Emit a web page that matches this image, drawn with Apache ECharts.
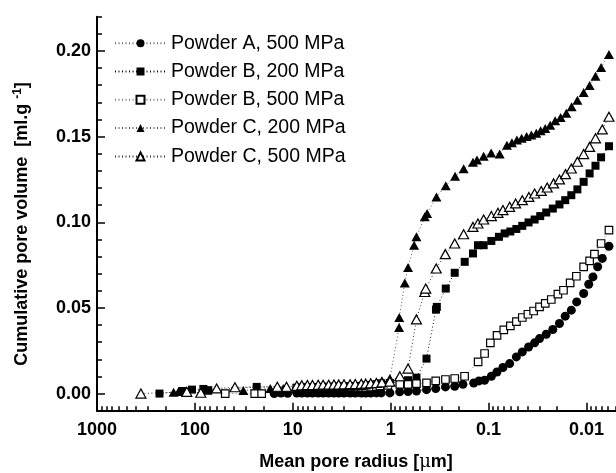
<!DOCTYPE html>
<html>
<head>
<meta charset="utf-8">
<script src="https://cdn.jsdelivr.net/npm/echarts@6/dist/echarts.min.js"></script>
<style>
html,body{margin:0;padding:0;background:#fff;}
#chart{width:616px;height:473px;}
</style>
</head>
<body>
<div id="chart"></div>
<script>
// ---------- data ----------
const seriesNames = ['Powder A, 500 MPa','Powder B, 200 MPa','Powder B, 500 MPa','Powder C, 200 MPa','Powder C, 500 MPa'];
const xTickValues = [1000, 100, 10, 1, 0.1, 0.01];
const yTickValues = [0, 0.05, 0.10, 0.15, 0.20];
const xTitle = 'Mean pore radius [';
const yTitle = 'Cumulative pore volume  [ml.g';

const powderA500 = [
[15.5,0.0000],[13.2,0.0003],[11.3,0.0002],
[9.1,0.0003],[8.1,0.0003],[7.1,0.0003],[6.3,0.0003],[5.5,0.0003],[4.9,0.0003],[4.3,0.0003],[3.8,0.0003],[3.4,0.0003],[3.0,0.0003],[2.6,0.0003],[2.3,0.0003],[2.0,0.0003],[1.8,0.0003],[1.6,0.0003],[1.4,0.0004],[1.25,0.0004],
[1.02,0.0004],[0.81,0.0010],[0.665,0.0012],[0.546,0.0015],[0.431,0.0023],[0.347,0.0029],[0.276,0.0039],[0.222,0.0043],[0.183,0.0054],[0.142,0.0062],[0.1255,0.0074],[0.110,0.0078],[0.0938,0.0101],[0.0822,0.0126],[0.0714,0.0152],[0.061,0.0175],[0.0521,0.0214],[0.0453,0.0243],[0.0391,0.0272],[0.0339,0.0296],[0.0302,0.0321],[0.0258,0.0346],[0.0221,0.0374],[0.0189,0.0409],[0.0165,0.0452],[0.0143,0.0487],[0.0126,0.0535],[0.0107,0.0584],[0.0095,0.0638],[0.0086,0.0681],[0.0077,0.0740],[0.0069,0.0789],[0.0059,0.0860]
];
const powderB200 = [
[230,0.0000],[134,0.0015],[107,0.0023],[82,0.0027],[73,0.0020],[23.4,0.0039],
[9.1,0.0035],[8.1,0.0036],[7.1,0.0037],[6.3,0.0038],[5.5,0.0038],[4.9,0.0039],[4.3,0.0040],[3.8,0.0040],[3.4,0.0041],[3.0,0.0042],[2.6,0.0043],[2.3,0.0044],[2.0,0.0045],[1.8,0.0047],[1.6,0.0050],[1.4,0.0055],[1.25,0.0060],
[1.02,0.0062],[0.81,0.0068],[0.665,0.0078],[0.546,0.0093],[0.431,0.0204],[0.345,0.0490],[0.338,0.0506],[0.274,0.0613],[0.222,0.0705],[0.1755,0.0769],[0.1445,0.0818],[0.1285,0.0866],[0.1124,0.0866],[0.0938,0.0891],[0.0785,0.0915],[0.0686,0.0935],[0.0600,0.0946],[0.0521,0.0961],[0.0453,0.0979],[0.0391,0.0999],[0.0339,0.1016],[0.0297,0.1036],[0.0258,0.1057],[0.0221,0.1080],[0.0189,0.1104],[0.0165,0.1129],[0.0143,0.1158],[0.0124,0.1192],[0.0107,0.1236],[0.0093,0.1285],[0.0081,0.1330],[0.0071,0.1379],[0.0059,0.1444]
];
const powderB500 = [
[49,0.0000],[24.5,0.0000],[20.8,0.0000],
[9.1,0.0030],[8.1,0.0030],[7.1,0.0030],[6.3,0.0032],[5.5,0.0032],[4.9,0.0033],[4.3,0.0033],[3.8,0.0034],[3.4,0.0034],[3.0,0.0035],[2.6,0.0035],[2.3,0.0036],[2.0,0.0036],[1.8,0.0037],[1.6,0.0038],[1.4,0.0040],[1.29,0.0045],
[1.07,0.0048],[0.807,0.0054],[0.665,0.0054],[0.546,0.0058],[0.431,0.0062],[0.347,0.0074],[0.276,0.0082],[0.222,0.0088],[0.176,0.0101],[0.128,0.0185],[0.110,0.0234],[0.096,0.0296],[0.082,0.0340],[0.070,0.0372],[0.060,0.0395],[0.052,0.0420],[0.0453,0.0444],[0.0397,0.0463],[0.0347,0.0482],[0.0302,0.0506],[0.0264,0.0526],[0.0229,0.0549],[0.0196,0.0580],[0.0172,0.0603],[0.0147,0.0646],[0.0127,0.0685],[0.0107,0.0740],[0.0093,0.0775],[0.0083,0.0814],[0.0071,0.0876],[0.0059,0.0954]
];
const powderC200 = [
[165,0.0008],[147,0.0012],[75,0.0020],[32,0.0018],[17,0.0030],[12.5,0.0030],
[9.1,0.0030],[8.1,0.0031],[7.1,0.0032],[6.3,0.0033],[5.5,0.0034],[4.9,0.0035],[4.3,0.0036],[3.8,0.0037],[3.4,0.0038],[3.0,0.0040],[2.6,0.0042],[2.3,0.0044],[2.0,0.0047],[1.8,0.0050],[1.6,0.0058],[1.4,0.0066],[1.23,0.0075],
[1.02,0.0088],[0.821,0.0386],[0.818,0.0444],[0.718,0.0646],[0.665,0.0736],[0.577,0.0866],[0.546,0.0915],[0.449,0.1032],[0.425,0.1051],[0.341,0.1148],[0.274,0.1213],[0.220,0.1269],[0.180,0.1312],[0.1445,0.1351],[0.1315,0.1363],[0.1124,0.1386],[0.0942,0.1405],[0.0771,0.1398],[0.0650,0.1450],[0.0578,0.1464],[0.0514,0.1480],[0.0460,0.1490],[0.0409,0.1500],[0.0366,0.1510],[0.0326,0.1520],[0.0294,0.1534],[0.0264,0.1548],[0.0235,0.1567],[0.0209,0.1592],[0.0184,0.1612],[0.0161,0.1636],[0.0142,0.1674],[0.0124,0.1713],[0.0107,0.1758],[0.0093,0.1799],[0.0081,0.1853],[0.0071,0.1904],[0.0059,0.1980]
];
const powderC500 = [
[356,0.0000],[121,0.0010],[87,0.0005],[60,0.0030],[39,0.0037],[14.4,0.0040],[11.6,0.0040],
[9.1,0.0045],[8.1,0.0048],[7.1,0.0050],[6.3,0.0050],[5.5,0.0051],[4.9,0.0052],[4.3,0.0052],[3.8,0.0053],[3.4,0.0053],[3.0,0.0054],[2.6,0.0055],[2.3,0.0056],[2.0,0.0057],[1.8,0.0058],[1.6,0.0060],[1.4,0.0062],[1.23,0.0065],
[1.02,0.0070],[0.807,0.0101],[0.665,0.0146],[0.546,0.0433],[0.449,0.0593],[0.439,0.0613],[0.343,0.0730],[0.277,0.0814],[0.222,0.0876],[0.180,0.0930],[0.1445,0.0973],[0.1285,0.0993],[0.1124,0.1016],[0.0938,0.1036],[0.0803,0.1055],[0.0714,0.1071],[0.0610,0.1090],[0.0530,0.1110],[0.0453,0.1129],[0.0388,0.1148],[0.0339,0.1168],[0.0290,0.1183],[0.0252,0.1203],[0.0217,0.1227],[0.0189,0.1250],[0.0164,0.1281],[0.0143,0.1314],[0.0124,0.1353],[0.0107,0.1398],[0.0093,0.1440],[0.0081,0.1490],[0.0069,0.1542],[0.0059,0.1616]
];

// ---------- ticks ----------
const xMinorTicks = [];
[0.001,0.01,0.1,1,10,100].forEach(function(dec){
  for (let k = 2; k <= 9; k++) {
    const v = Number((dec * k).toPrecision(3));
    if (v >= 0.005 && v <= 1000) xMinorTicks.push(v);
  }
});
const yMinorTicks = [];
for (let i = -1; i <= 22; i++) { if (i % 5 !== 0) yMinorTicks.push(Number((i / 100).toFixed(2))); }

const FONT = '"Liberation Sans", Arial, Helvetica, sans-serif';

const chart = echarts.init(document.getElementById('chart'), null, {renderer: 'canvas'});

const filled = {color: '#000', borderWidth: 0};
const hollow = {color: '#fff', borderColor: '#000', borderWidth: 1.2};

function mkSeries(name, data, symbol, size, itemStyle, lineColor) {
  return {
    name: name, type: 'line', data: data,
    xAxisIndex: 0, yAxisIndex: 0,
    symbol: symbol, symbolSize: size, showAllSymbol: true,
    itemStyle: itemStyle,
    lineStyle: {color: lineColor, width: 1, type: [1, 2.5]},
    emphasis: {disabled: true},
    animation: false
  };
}

const option = {
  animation: false,
  textStyle: {fontFamily: FONT},
  grid: {left: 97, right: 0, top: 16.7, bottom: 62.3, containLabel: false},
  legend: {
    orient: 'vertical', left: 114, top: 33.2,
    itemWidth: 51, itemHeight: 10, itemGap: 8.3, padding: 0,
    textStyle: {fontSize: 19.5, lineHeight: 19, color: '#000', fontFamily: FONT},
    data: seriesNames,
    selectedMode: false
  },
  xAxis: [{
    type: 'log', logBase: 10, inverse: true, min: 0.005, max: 1000,
    position: 'bottom',
    axisLine: {onZero: false, lineStyle: {color: '#000', width: 2}},
    axisTick: {inside: true, length: 8, lineStyle: {color: '#000', width: 1.5}, customValues: xTickValues},
    axisLabel: {customValues: xTickValues, margin: 10, color: '#000', fontSize: 18, fontWeight: 'bold', fontFamily: FONT,
      formatter: function (v) { return String(Number(Number(v).toPrecision(3))); }},
    splitLine: {show: false}
  }, {
    type: 'log', logBase: 10, inverse: true, min: 0.005, max: 1000,
    position: 'bottom',
    axisLine: {show: false, onZero: false},
    axisTick: {inside: true, length: 4.5, lineStyle: {color: '#000', width: 1.5}, customValues: xMinorTicks},
    axisLabel: {show: false},
    splitLine: {show: false}
  }],
  yAxis: [{
    type: 'value', min: -0.01, max: 0.22, position: 'left',
    axisLine: {show: true, onZero: false, lineStyle: {color: '#000', width: 2}},
    axisTick: {show: true, inside: true, length: 8, lineStyle: {color: '#000', width: 1.5}, customValues: yTickValues},
    axisLabel: {customValues: yTickValues, margin: 6, color: '#000', fontSize: 18, fontWeight: 'bold', fontFamily: FONT,
      formatter: function (v) { return Number(v).toFixed(2); }},
    splitLine: {show: false}
  }, {
    type: 'value', min: -0.01, max: 0.22, position: 'left',
    axisLine: {show: false, onZero: false},
    axisTick: {show: true, inside: true, length: 5, lineStyle: {color: '#000', width: 1.5}, customValues: yMinorTicks},
    axisLabel: {show: false},
    splitLine: {show: false}
  }],
  graphic: [{
    type: 'text', x: 356, y: 462, silent: true,
    style: {
      text: '{b|' + xTitle + '}{m|μ}{b|m]}',
      align: 'center', verticalAlign: 'middle', textAlign: 'center', textVerticalAlign: 'middle',
      rich: {
        b: {fontSize: 18, fontWeight: 'bold', fontFamily: FONT, fill: '#000', color: '#000'},
        m: {fontSize: 18, fontFamily: '"DejaVu Serif", serif', fill: '#000', color: '#000'}
      }
    }
  }, {
    type: 'text', x: 22.5, y: 224, rotation: Math.PI / 2, silent: true,
    style: {
      text: '{b|' + yTitle + ' }{s|-1}{b|]}',
      align: 'center', verticalAlign: 'middle', textAlign: 'center', textVerticalAlign: 'middle',
      rich: {
        b: {fontSize: 18, fontWeight: 'bold', fontFamily: FONT, lineHeight: 22, fill: '#000', color: '#000'},
        s: {fontSize: 12, fontWeight: 'bold', fontFamily: FONT, lineHeight: 12, verticalAlign: 'top', fill: '#000', color: '#000'}
      }
    }
  }],
  series: [
    mkSeries(seriesNames[0], powderA500, 'circle', 9, filled, '#666'),
    mkSeries(seriesNames[1], powderB200, 'rect', 8, filled, '#111'),
    mkSeries(seriesNames[2], powderB500, 'rect', 7.5, hollow, '#777'),
    mkSeries(seriesNames[3], powderC200, 'triangle', [10, 9], filled, '#555'),
    mkSeries(seriesNames[4], powderC500, 'triangle', [10, 9], hollow, '#333')
  ]
};
chart.setOption(option);
</script>
</body>
</html>
